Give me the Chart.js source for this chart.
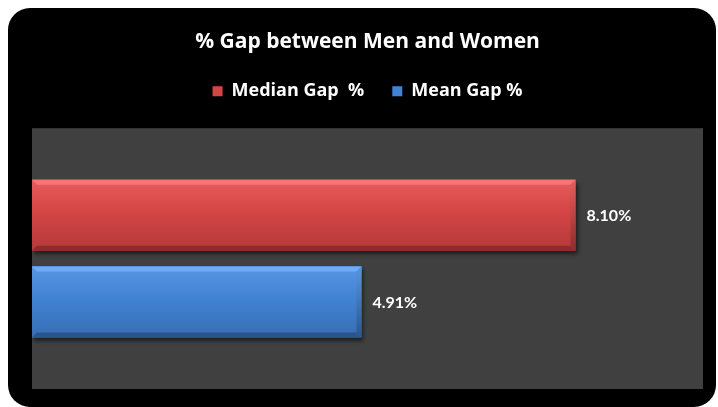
<!DOCTYPE html>
<html>
<head>
<meta charset="utf-8">
<script src="https://cdn.jsdelivr.net/npm/chart.js@4"></script>
<style>
  html, body { margin: 0; padding: 0; background: #ffffff; }
  #wrap { width: 718px; height: 407px; }
</style>
</head>
<body>
<div id="wrap"><canvas id="gapChart" width="718" height="407"></canvas></div>
<script>
// datos
const categorias = ['% Gap'];
const seriesNombres = ['Median Gap  %', 'Mean Gap %'];
const medianGap = [8.10];
const meanGap = [4.91];
const ejeMax = 10;

const colores = {
    rojo: { top: '#e65c5c', mid: '#d44545', bottom: '#b43939', edge: '#8e2c2c', light: '#f47676' },
    azul: { top: '#5896e2', mid: '#4282d3', bottom: '#376eb4', edge: '#2a558c', light: '#6cadf3' }
};

// fondo negro redondeado y área gris
const fondoPlugin = {
    id: 'fondo',
    beforeDraw(chart) {
        const { ctx, chartArea } = chart;
        ctx.save();
        ctx.fillStyle = '#000000';
        ctx.beginPath();
        ctx.roundRect(8, 8, 708, 399, 22);
        ctx.fill();
        ctx.fillStyle = '#404040';
        ctx.fillRect(chartArea.left, chartArea.top, chartArea.right - chartArea.left, chartArea.bottom - chartArea.top);
        ctx.restore();
    }
};

// espacio extra bajo la leyenda
const leyendaEspacio = {
    id: 'leyendaEspacio',
    beforeInit(chart) {
        const fitOriginal = chart.legend.fit;
        chart.legend.fit = function () {
            fitOriginal.call(this);
            this.height += 18;
        };
    }
};

// efecto biselado de las barras y etiquetas de valor
const biselPlugin = {
    id: 'bisel',
    afterDatasetsDraw(chart) {
        const ctx = chart.ctx;
        chart.data.datasets.forEach((ds, i) => {
            const meta = chart.getDatasetMeta(i);
            const c = i === 0 ? colores.rojo : colores.azul;
            meta.data.forEach((bar, j) => {
                const x0 = bar.base, x1 = bar.x;
                const y0 = bar.y - bar.height / 2, y1 = bar.y + bar.height / 2;
                const b = 5;
                ctx.save();
                // sombra
                ctx.shadowColor = 'rgba(0,0,0,0.55)';
                ctx.shadowOffsetX = 2;
                ctx.shadowOffsetY = 3;
                ctx.shadowBlur = 4;
                const g = ctx.createLinearGradient(0, y0, 0, y1);
                g.addColorStop(0, c.top);
                g.addColorStop(0.45, c.mid);
                g.addColorStop(1, c.bottom);
                ctx.fillStyle = g;
                ctx.fillRect(x0, y0, x1 - x0, y1 - y0);
                ctx.shadowColor = 'transparent';
                // borde superior claro
                ctx.fillStyle = c.light;
                ctx.beginPath();
                ctx.moveTo(x0, y0);
                ctx.lineTo(x1, y0);
                ctx.lineTo(x1 - b, y0 + b);
                ctx.lineTo(x0 + b, y0 + b);
                ctx.closePath();
                ctx.fill();
                // borde derecho
                const gr = ctx.createLinearGradient(0, y0, 0, y1);
                gr.addColorStop(0, c.top);
                gr.addColorStop(1, c.edge);
                ctx.fillStyle = gr;
                ctx.beginPath();
                ctx.moveTo(x1, y0);
                ctx.lineTo(x1, y1);
                ctx.lineTo(x1 - b, y1 - b);
                ctx.lineTo(x1 - b, y0 + b);
                ctx.closePath();
                ctx.fill();
                // borde inferior oscuro
                ctx.fillStyle = c.edge;
                ctx.beginPath();
                ctx.moveTo(x0, y1);
                ctx.lineTo(x1, y1);
                ctx.lineTo(x1 - b, y1 - b);
                ctx.lineTo(x0 + b, y1 - b);
                ctx.closePath();
                ctx.fill();
                ctx.restore();

                // etiqueta
                ctx.save();
                ctx.fillStyle = '#ffffff';
                ctx.font = 'bold 16px Lato, "Liberation Sans", sans-serif';
                ctx.textAlign = 'left';
                ctx.textBaseline = 'middle';
                ctx.fillText(ds.data[j].toFixed(2) + '%', x1 + 11, bar.y + 1);
                ctx.restore();
            });
        });
    }
};

const fuente = '"Open Sans", Lato, "Liberation Sans", sans-serif';

const ctx = document.getElementById('gapChart').getContext('2d');
const gapChart = new Chart(ctx, {
    type: 'bar',
    data: {
        labels: categorias,
        datasets: [{
            label: seriesNombres[0],
            data: medianGap,
            backgroundColor: colores.rojo.mid,
            borderWidth: 0
        }, {
            label: seriesNombres[1],
            data: meanGap,
            backgroundColor: colores.azul.mid,
            borderWidth: 0
        }]
    },
    options: {
        indexAxis: 'y',
        responsive: false,
        animation: false,
        categoryPercentage: 0.665,
        barPercentage: 0.82,
        layout: { padding: { left: 32, right: 15, top: 10, bottom: 18 } },
        scales: {
            x: { display: false, min: 0, max: ejeMax },
            y: { display: false }
        },
        plugins: {
            title: {
                display: true,
                text: '% Gap between Men and Women',
                color: '#ffffff',
                font: { family: fuente, size: 21, weight: 'bold' },
                padding: { top: 19, bottom: 0 }
            },
            legend: {
                display: true,
                position: 'top',
                labels: {
                    color: '#ffffff',
                    font: { family: fuente, size: 18, weight: 'bold' },
                    boxWidth: 10,
                    boxHeight: 10,
                    padding: 28,
                    generateLabels(chart) {
                        return chart.data.datasets.map((ds, i) => ({
                            text: ds.label,
                            fillStyle: i === 0 ? colores.rojo.mid : colores.azul.mid,
                            strokeStyle: i === 0 ? colores.rojo.mid : colores.azul.mid,
                            lineWidth: 0,
                            fontColor: '#ffffff',
                            datasetIndex: i
                        }));
                    }
                }
            },
            tooltip: { enabled: false }
        }
    },
    plugins: [fondoPlugin, leyendaEspacio, biselPlugin]
});
</script>
</body>
</html>
